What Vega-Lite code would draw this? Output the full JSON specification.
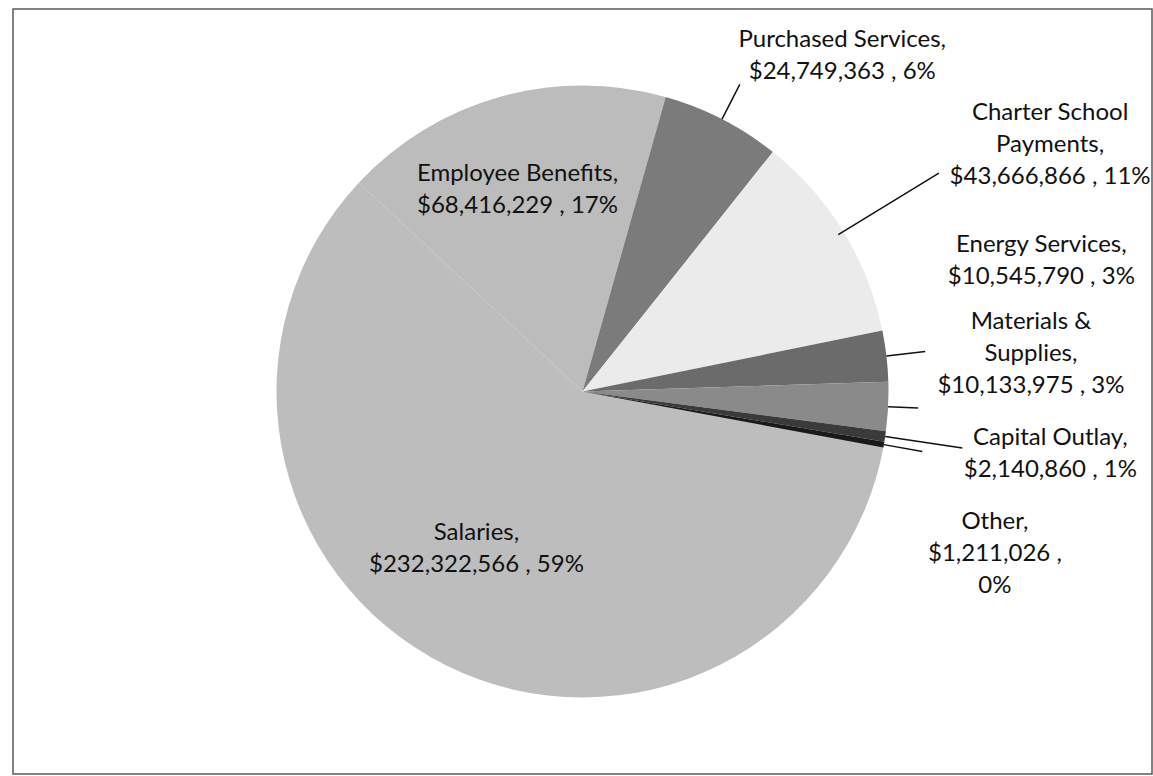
{
  "$schema": "https://vega.github.io/schema/vega-lite/v6.json",
  "width": 1153,
  "height": 776,
  "autosize": {"type": "fit", "contains": "padding"},
  "padding": {"left": 12, "top": 8, "right": 0, "bottom": 1},
  "background": "white",
  "config": {
    "view": {"stroke": null},
    "text": {"font": "Lato", "fontSize": 24, "lineHeight": 32, "fill": "#111111"}
  },
  "data": {
    "values": [
      {"idx": 1, "cat": "Salaries", "value": 232322566, "label": "Salaries,\n$232,322,566 , 59%"},
      {"idx": 2, "cat": "Employee Benefits", "value": 68416229, "label": "Employee Benefits,\n$68,416,229 , 17%"},
      {"idx": 3, "cat": "Purchased Services", "value": 24749363, "label": "Purchased Services,\n$24,749,363 , 6%"},
      {"idx": 4, "cat": "Charter School Payments", "value": 43666866, "label": "Charter School\nPayments,\n$43,666,866 , 11%"},
      {"idx": 5, "cat": "Energy Services", "value": 10545790, "label": "Energy Services,\n$10,545,790 , 3%"},
      {"idx": 6, "cat": "Materials & Supplies", "value": 10133975, "label": "Materials &\nSupplies,\n$10,133,975 , 3%"},
      {"idx": 7, "cat": "Capital Outlay", "value": 2140860, "label": "Capital Outlay,\n$2,140,860 , 1%"},
      {"idx": 8, "cat": "Other", "value": 1211026, "label": "Other,\n$1,211,026 ,\n0%"}
    ]
  },
  "transform": [
    {"stack": "value", "groupby": [], "sort": [{"field": "idx", "order": "ascending"}], "as": ["v0", "v1"]},
    {"calculate": "(datum.v0 + datum.v1) / 2", "as": "mid"}
  ],
  "layer": [
    {
      "transform": [{"filter": "datum.idx === 1"}],
      "mark": {"type": "rect", "fillOpacity": 0, "stroke": "#5a5a5a", "strokeWidth": 1.5},
      "encoding": {"x": {"value": 0}, "x2": {"value": "width"}, "y": {"value": 0}, "y2": {"value": "height"}}
    },
    {
      "mark": {"type": "arc", "outerRadius": 306},
      "encoding": {
        "theta": {"field": "v0", "type": "quantitative", "stack": null, "scale": {"range": [1.7453, 8.0285], "zero": true, "nice": false}},
        "theta2": {"field": "v1"},
        "color": {
          "field": "cat", "type": "nominal", "legend": null,
          "scale": {
            "domain": ["Salaries", "Employee Benefits", "Purchased Services", "Charter School Payments", "Energy Services", "Materials & Supplies", "Capital Outlay", "Other"],
            "range": ["#bdbdbd", "#bcbcbc", "#7b7b7b", "#ebebeb", "#6b6b6b", "#8a8a8a", "#3a3a3a", "#1a1a1a"]
          }
        }
      }
    },
    {
      "transform": [{"filter": "datum.cat === 'Purchased Services'"}],
      "mark": {"type": "arc", "innerRadius": 306, "outerRadius": 345, "stroke": "#111111", "strokeWidth": 1.5, "fillOpacity": 0},
      "encoding": {"theta": {"field": "mid", "type": "quantitative", "stack": null}, "theta2": {"field": "mid"}}
    },
    {
      "transform": [{"filter": "datum.cat === 'Charter School Payments'"}],
      "mark": {"type": "arc", "innerRadius": 300, "outerRadius": 418, "stroke": "#111111", "strokeWidth": 1.5, "fillOpacity": 0},
      "encoding": {"theta": {"field": "mid", "type": "quantitative", "stack": null}, "theta2": {"field": "mid"}}
    },
    {
      "transform": [{"filter": "datum.cat === 'Energy Services'"}],
      "mark": {"type": "arc", "innerRadius": 306, "outerRadius": 345, "stroke": "#111111", "strokeWidth": 1.5, "fillOpacity": 0},
      "encoding": {"theta": {"field": "mid", "type": "quantitative", "stack": null}, "theta2": {"field": "mid"}}
    },
    {
      "transform": [{"filter": "datum.cat === 'Materials & Supplies'"}],
      "mark": {"type": "arc", "innerRadius": 306, "outerRadius": 336, "stroke": "#111111", "strokeWidth": 1.5, "fillOpacity": 0},
      "encoding": {"theta": {"field": "mid", "type": "quantitative", "stack": null}, "theta2": {"field": "mid"}}
    },
    {
      "transform": [{"filter": "datum.cat === 'Capital Outlay'"}],
      "mark": {"type": "arc", "innerRadius": 306, "outerRadius": 384, "stroke": "#111111", "strokeWidth": 1.5, "fillOpacity": 0},
      "encoding": {"theta": {"field": "mid", "type": "quantitative", "stack": null}, "theta2": {"field": "mid"}}
    },
    {
      "transform": [{"filter": "datum.cat === 'Other'"}],
      "mark": {"type": "arc", "innerRadius": 306, "outerRadius": 345, "stroke": "#111111", "strokeWidth": 1.5, "fillOpacity": 0},
      "encoding": {"theta": {"field": "mid", "type": "quantitative", "stack": null}, "theta2": {"field": "mid"}}
    },
    {
      "transform": [{"filter": "datum.cat === 'Salaries'"}],
      "mark": {"type": "text", "align": "center", "baseline": "middle", "lineBreak": "\n", "dx": -23, "dy": -25},
      "encoding": {"theta": {"field": "mid", "type": "quantitative", "stack": null}, "radius": {"value": 186}, "text": {"field": "label"}}
    },
    {
      "transform": [{"filter": "datum.cat === 'Employee Benefits'"}],
      "mark": {"type": "text", "align": "center", "baseline": "middle", "lineBreak": "\n", "dx": -8, "dy": -13},
      "encoding": {"theta": {"field": "mid", "type": "quantitative", "stack": null}, "radius": {"value": 212}, "text": {"field": "label"}}
    },
    {
      "transform": [{"filter": "datum.cat === 'Purchased Services'"}],
      "mark": {"type": "text", "align": "center", "baseline": "middle", "lineBreak": "\n", "dx": 71, "dy": 17},
      "encoding": {"theta": {"field": "mid", "type": "quantitative", "stack": null}, "radius": {"value": 414}, "text": {"field": "label"}}
    },
    {
      "transform": [{"filter": "datum.cat === 'Charter School Payments'"}],
      "mark": {"type": "text", "align": "center", "baseline": "middle", "lineBreak": "\n", "dx": 20, "dy": -4},
      "encoding": {"theta": {"field": "mid", "type": "quantitative", "stack": null}, "radius": {"value": 525}, "text": {"field": "label"}}
    },
    {
      "transform": [{"filter": "datum.cat === 'Energy Services'"}],
      "mark": {"type": "text", "align": "center", "baseline": "middle", "lineBreak": "\n", "dx": -9, "dy": -92},
      "encoding": {"theta": {"field": "mid", "type": "quantitative", "stack": null}, "radius": {"value": 471}, "text": {"field": "label"}}
    },
    {
      "transform": [{"filter": "datum.cat === 'Materials & Supplies'"}],
      "mark": {"type": "text", "align": "center", "baseline": "middle", "lineBreak": "\n", "dx": 3, "dy": -92},
      "encoding": {"theta": {"field": "mid", "type": "quantitative", "stack": null}, "radius": {"value": 446}, "text": {"field": "label"}}
    },
    {
      "transform": [{"filter": "datum.cat === 'Capital Outlay'"}],
      "mark": {"type": "text", "align": "center", "baseline": "middle", "lineBreak": "\n", "dx": 1, "dy": -23},
      "encoding": {"theta": {"field": "mid", "type": "quantitative", "stack": null}, "radius": {"value": 472}, "text": {"field": "label"}}
    },
    {
      "transform": [{"filter": "datum.cat === 'Other'"}],
      "mark": {"type": "text", "align": "center", "baseline": "middle", "lineBreak": "\n", "dx": -15, "dy": 55},
      "encoding": {"theta": {"field": "mid", "type": "quantitative", "stack": null}, "radius": {"value": 434}, "text": {"field": "label"}}
    }
  ]
}
